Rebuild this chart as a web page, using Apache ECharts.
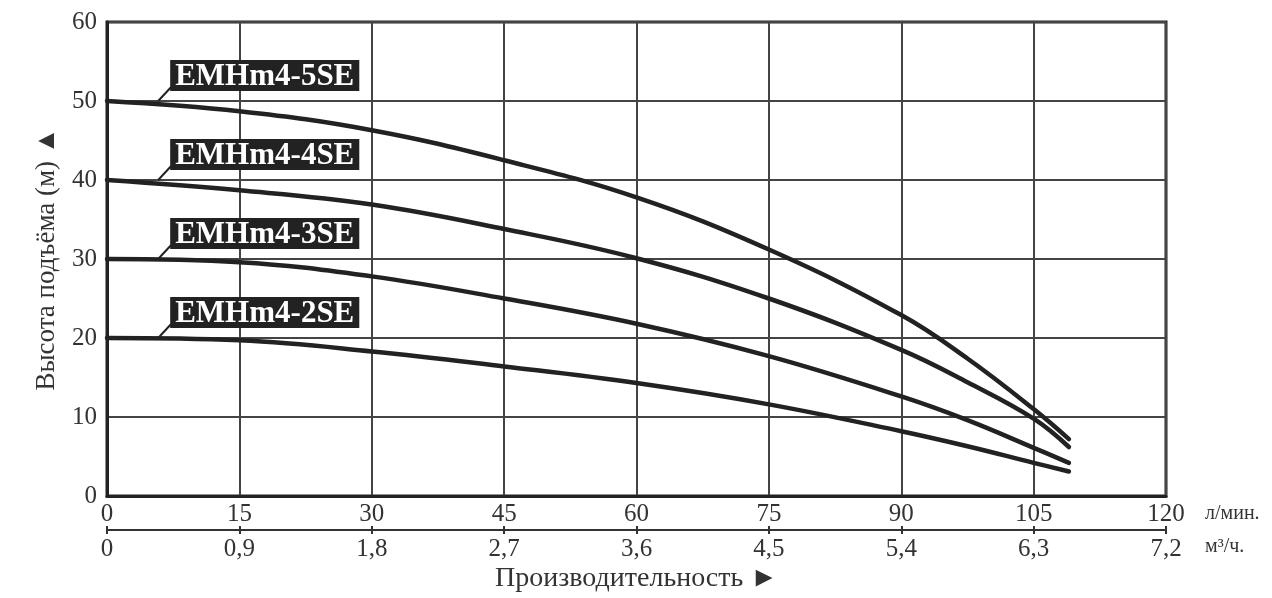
<!DOCTYPE html>
<html>
<head>
<meta charset="utf-8">
<script src="https://cdn.jsdelivr.net/npm/echarts@6/dist/echarts.min.js"></script>
<style>
html,body{margin:0;padding:0;background:#fff;}
#c{width:1272px;height:598px;}
</style>
</head>
<body>
<div id="c"></div>
<script>
// ---- data ----
const flowLpm = [0, 15, 30, 45, 60, 75, 90, 97.5, 105, 109];
const seriesNames = ['EMHm4-5SE', 'EMHm4-4SE', 'EMHm4-3SE', 'EMHm4-2SE'];
const head5SE = [50, 48.7, 46.3, 42.5, 37.8, 31.2, 22.9, 17.4, 11.0, 7.2];
const head4SE = [40, 38.7, 36.9, 33.8, 30.1, 25.0, 18.5, 14.4, 9.8, 6.2];
const head3SE = [30, 29.6, 27.8, 25.0, 21.8, 17.7, 12.6, 9.6, 6.1, 4.2];
const head2SE = [20, 19.7, 18.3, 16.4, 14.3, 11.6, 8.2, 6.3, 4.2, 3.1];
const m3hTickLabels = ['0', '0,9', '1,8', '2,7', '3,6', '4,5', '5,4', '6,3', '7,2'];
const yAxisName = 'Высота подъёма (м) ▲';
const xAxisName = 'Производительность ►';
const unitLpm = 'л/мин.';
const unitM3h = 'м³/ч.';

const heads = [head5SE, head4SE, head3SE, head2SE];
const SERIF = '"Liberation Serif", "DejaVu Serif", serif';
const INK = '#222';

const chart = echarts.init(document.getElementById('c'));

const series = heads.map((h, i) => ({
  name: seriesNames[i],
  type: 'line',
  smooth: 0.4,
  symbol: 'none',
  lineStyle: { color: INK, width: 4.5, cap: 'round' },
  data: flowLpm.map((x, k) => [x, h[k]]),
  z: 5
}));

chart.setOption({
  animation: false,
  backgroundColor: '#fff',
  grid: { left: 107, right: 106, top: 22, bottom: 99, show: true, borderColor: INK, borderWidth: 3, backgroundColor: 'transparent' },
  xAxis: [
    {
      type: 'value', min: 0, max: 120, interval: 15, position: 'bottom',
      axisLine: { show: true, onZero: false, lineStyle: { color: INK, width: 3 } },
      axisTick: { show: false },
      axisLabel: { fontFamily: SERIF, fontSize: 25, color: '#333', margin: 6 },
      splitLine: { show: true, lineStyle: { color: '#444', width: 2 } },
      name: unitLpm, nameLocation: 'end', nameGap: 39,
      nameTextStyle: { fontFamily: SERIF, fontSize: 20, color: '#333', verticalAlign: 'top', padding: [8, 0, 0, 0] }
    },
    {
      type: 'value', min: 0, max: 7.2, interval: 0.9, position: 'bottom', offset: 34,
      axisLine: { show: true, onZero: false, lineStyle: { color: '#333', width: 2 } },
      axisTick: { show: true, inside: true, length: 4, lineStyle: { color: '#333', width: 2 } },
      axisLabel: { fontFamily: SERIF, fontSize: 25, color: '#333', margin: 7,
        formatter: (v) => m3hTickLabels[Math.round(v / 0.9)] },
      splitLine: { show: false },
      name: unitM3h, nameLocation: 'end', nameGap: 39,
      nameTextStyle: { fontFamily: SERIF, fontSize: 20, color: '#333', verticalAlign: 'top', padding: [7, 0, 0, 0] }
    },
    {
      type: 'value', min: 0, max: 7.2, interval: 0.9, position: 'bottom', offset: 34,
      axisLine: { show: false, onZero: false },
      axisTick: { show: true, inside: false, length: 4, lineStyle: { color: '#333', width: 2 } },
      axisLabel: { show: false },
      splitLine: { show: false },
      name: xAxisName, nameLocation: 'middle', nameGap: 35,
      nameTextStyle: { fontFamily: SERIF, fontSize: 28, color: '#333' }
    }
  ],
  yAxis: {
    type: 'value', min: 0, max: 60, interval: 10,
    axisLine: { show: true, lineStyle: { color: INK, width: 3 } },
    axisTick: { show: false },
    axisLabel: { fontFamily: SERIF, fontSize: 25, color: '#333', margin: 10 },
    splitLine: { show: true, lineStyle: { color: '#444', width: 2 } },
    name: yAxisName, nameLocation: 'middle', nameRotate: 90, nameGap: 47,
    nameTextStyle: { fontFamily: SERIF, fontSize: 27, color: '#333' }
  },
  series: series
});

// curve labels with leader lines
const labelX = 5.8;
const graphics = [];
heads.forEach((h, i) => {
  const p = chart.convertToPixel({ gridIndex: 0 }, [labelX, h[0]]);
  graphics.push({
    type: 'line', z: 10,
    shape: { x1: p[0], y1: p[1], x2: p[0] + 13, y2: p[1] - 14 },
    style: { stroke: INK, lineWidth: 2 }
  });
  graphics.push({
    type: 'text', z: 11, x: p[0] + 12, y: p[1] - 10,
    style: {
      text: seriesNames[i], fill: '#fff', fontFamily: SERIF, fontWeight: 'bold', fontSize: 31,
      backgroundColor: INK, padding: [2, 5, 0, 5], lineHeight: 29,
      align: 'left', verticalAlign: 'bottom'
    }
  });
});
chart.setOption({ graphic: graphics });
</script>
</body>
</html>
